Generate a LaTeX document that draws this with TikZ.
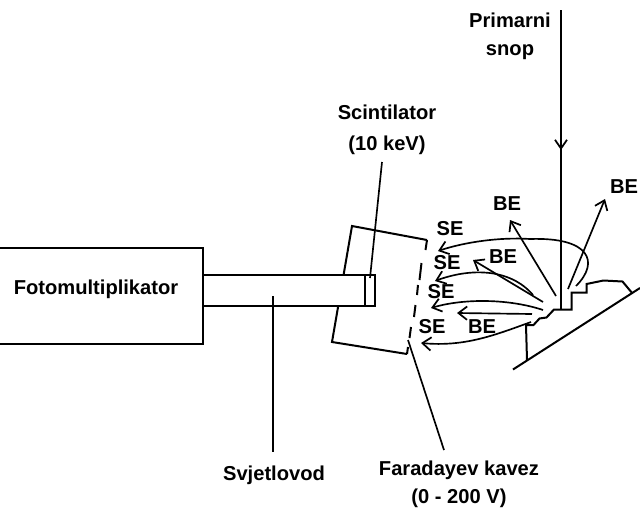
\documentclass[tikz,border=0pt]{standalone}
\usepackage{fontspec}
\setmainfont{Liberation Sans}
\usetikzlibrary{arrows.meta}
\tikzset{
  ln/.style={draw=black,line width=1.5pt},
  thin ln/.style={draw=black,line width=1.25pt},
  arr/.style={thin ln,-{Straight Barb[length=6.5pt,width=10pt,line width=1.3pt]}},
  lbl/.style={font=\fontsize{15.1}{18}\selectfont\bfseries,inner sep=0pt,align=center}
}
\begin{document}
\begin{tikzpicture}[x=0.75pt,y=-0.75pt]
\useasboundingbox[fill=white] (0,0) rectangle (640,508);
% coordinates
\coordinate (beamtop) at (561,10);
\coordinate (beammid) at (561,150);
\coordinate (beamend) at (561,309);
% Faraday cage
\coordinate (c1) at (427,240); \coordinate (c2) at (352,226);
\coordinate (c3) at (332,342); \coordinate (c4) at (407,354);
\draw[ln] (c1) -- (c2) -- (c3) -- (c4);
\draw[ln] (c1) -- (425.5,250);
\draw[ln] (421.5,263) -- (419.5,280);
\draw[ln] (418,285) -- (417,295);
\draw[ln] (415.5,305) -- (414,317);
\draw[ln] (411,327) -- (409.5,338);
\draw[ln] (408,347) -- (c4);
% photomultiplier
\coordinate (p1) at (0,248); \coordinate (p2) at (203,248);
\coordinate (p3) at (203,344); \coordinate (p4) at (0,344);
\draw[ln] (p1) -- (p2) -- (p3) -- (p4);
% light guide
\draw[ln,fill=white] (203,275) rectangle (375,305.5);
\draw[ln] (365,275) -- (365,305.5);
\coordinate (sciend) at (370,278);
\coordinate (scitop) at (382,162);
\draw[thin ln] (scitop) -- (sciend);
% pointers
\coordinate (sv1) at (273,296);
\coordinate (sv2) at (273,452);
\draw[thin ln] (sv1) -- (sv2);
\coordinate (fa1) at (408,340);
\coordinate (fa2) at (444,450);
\draw[thin ln] (fa1) -- (fa2);
% specimen
\draw[ln] (513,369.5) -- (640,288);
\draw[ln,line join=miter] (527,360) -- (526,325) -- (533.5,325) -- (539.5,318.5) -- (546.5,317.5) -- (554,309.5) -- (571.5,309.5) -- (571.5,292.5) -- (586.5,292.5) -- (586.5,284) -- (603.5,280.5) -- (622.5,281.5) -- (632.5,293.5);
% primary beam
\draw[ln] (beamtop) -- (beamend);
\draw[ln,-{Straight Barb[length=6.5pt,width=9pt,line width=1.3pt]}] (beamtop) -- (beammid);
% straight arrows
\coordinate (b1s) at (556,296); \coordinate (b1e) at (510,220);
\coordinate (b2s) at (568,289); \coordinate (b2e) at (605,199);
\coordinate (b3s) at (543,302); \coordinate (b3e) at (473,260);
\coordinate (b4s) at (532,314); \coordinate (b4e) at (457,313);
\draw[arr] (b1s) -- (b1e);
\draw[arr] (b2s) -- (b2e);
\draw[arr] (b3s) -- (b3e);
\draw[arr] (b4s) -- (b4e);
% curved arrows
\coordinate (s1s) at (576,286); \coordinate (s1e) at (438,251);
\coordinate (s2s) at (533,295); \coordinate (s2e) at (435,281);
\coordinate (s3s) at (543,310); \coordinate (s3e) at (431,308);
\coordinate (s4s) at (531,322); \coordinate (s4e) at (421,343);
\draw[arr] (s1s) .. controls (600,262) and (590,237) .. (530,239) .. controls (500,237) and (465,242) .. (s1e);
\draw[arr] (s2s) .. controls (510,268) and (470,268) .. (s2e);
\draw[arr] (s3s) .. controls (510,299) and (465,298) .. (s3e);
\draw[arr] (s4s) .. controls (495,335) and (465,347) .. (s4e);
% labels
\node[lbl] (t1) at (510,36.5) {Primarni\\[3pt]snop};
\node[lbl] (t2) at (387,130) {Scintilator\\[5pt](10 keV)};
\node[lbl] (t3) at (96,289) {Fotomultiplikator};
\node[lbl] (t4) at (274,475) {Svjetlovod};
\node[lbl] (t5) at (459,484) {Faradayev kavez\\[3pt](0 - 200 V)};
\node[lbl] (b1) at (624,187) {BE};
\node[lbl] (b2) at (507,204) {BE};
\node[lbl] (b3) at (503,257) {BE};
\node[lbl] (b4) at (482,327) {BE};
\node[lbl] (s1) at (450,229) {SE};
\node[lbl] (s2) at (447,263) {SE};
\node[lbl] (s3) at (441,292) {SE};
\node[lbl] (s4) at (432,327) {SE};
\end{tikzpicture}
\end{document}
